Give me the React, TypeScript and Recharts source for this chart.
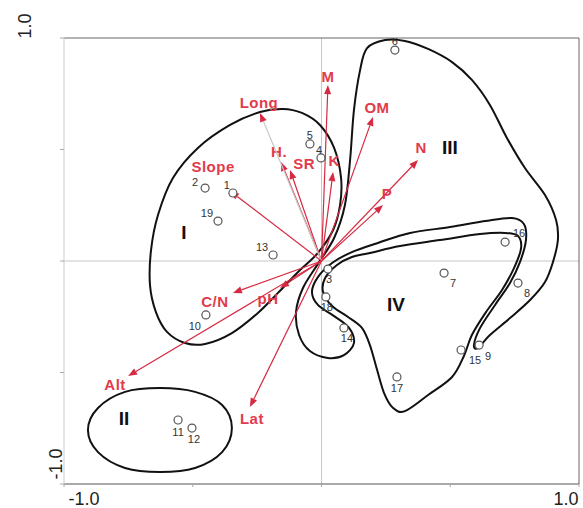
import { ComposedChart, XAxis, YAxis, Line, Scatter, ReferenceLine } from 'recharts';

// site scores (CCA axis 1 / axis 2)
const sites = [
  { id: '1', x: -0.344, y: 0.305 },
  { id: '2', x: -0.452, y: 0.327 },
  { id: '3', x: 0.025, y: -0.036 },
  { id: '4', x: -0.002, y: 0.462 },
  { id: '5', x: -0.045, y: 0.525 },
  { id: '6', x: 0.285, y: 0.946 },
  { id: '7', x: 0.476, y: -0.054 },
  { id: '8', x: 0.763, y: -0.099 },
  { id: '9', x: 0.612, y: -0.377 },
  { id: '10', x: -0.449, y: -0.242 },
  { id: '11', x: -0.557, y: -0.713 },
  { id: '12', x: -0.503, y: -0.749 },
  { id: '13', x: -0.188, y: 0.027 },
  { id: '14', x: 0.087, y: -0.3 },
  { id: '15', x: 0.542, y: -0.399 },
  { id: '16', x: 0.713, y: 0.085 },
  { id: '17', x: 0.293, y: -0.52 },
  { id: '18', x: 0.017, y: -0.161 },
  { id: '19', x: -0.402, y: 0.179 },
];

// environmental variable arrows (tip coordinates)
const envVars = [
  { name: 'M', x: 0.025, y: 0.789 },
  { name: 'OM', x: 0.2, y: 0.646 },
  { name: 'N', x: 0.375, y: 0.453 },
  { name: 'P', x: 0.239, y: 0.251 },
  { name: 'K', x: 0.045, y: 0.399 },
  { name: 'SR', x: -0.122, y: 0.408 },
  { name: 'H.', x: -0.157, y: 0.444 },
  { name: 'Long', x: -0.239, y: 0.664 },
  { name: 'Slope', x: -0.355, y: 0.314 },
  { name: 'C/N', x: -0.344, y: -0.143 },
  { name: 'pH', x: -0.161, y: -0.121 },
  { name: 'Alt', x: -0.751, y: -0.516 },
  { name: 'Lat', x: -0.278, y: -0.655 },
];

const groupLabels = [
  { name: 'I', x: -0.534, y: 0.13 },
  { name: 'II', x: -0.767, y: -0.704 },
  { name: 'III', x: 0.499, y: 0.511 },
  { name: 'IV', x: 0.289, y: -0.193 },
];

// hand-drawn group outlines
const outlineI = [
  { x: -0.239, y: 0.668 }, { x: -0.15, y: 0.682 }, { x: -0.076, y: 0.664 }, { x: -0.006, y: 0.61 },
  { x: 0.049, y: 0.507 }, { x: 0.076, y: 0.372 }, { x: 0.072, y: 0.251 }, { x: 0.045, y: 0.139 },
  { x: -0.014, y: 0.036 }, { x: -0.091, y: -0.049 }, { x: -0.169, y: -0.143 }, { x: -0.247, y: -0.233 },
  { x: -0.348, y: -0.323 }, { x: -0.452, y: -0.372 }, { x: -0.53, y: -0.368 }, { x: -0.6, y: -0.318 },
  { x: -0.643, y: -0.229 }, { x: -0.666, y: -0.108 }, { x: -0.662, y: 0.049 }, { x: -0.635, y: 0.206 },
  { x: -0.577, y: 0.372 }, { x: -0.48, y: 0.507 }, { x: -0.355, y: 0.61 },
];

const outlineII = [
  { x: -0.627, y: -0.57 }, { x: -0.491, y: -0.587 }, { x: -0.386, y: -0.646 }, { x: -0.348, y: -0.749 },
  { x: -0.386, y: -0.857 }, { x: -0.491, y: -0.928 }, { x: -0.627, y: -0.946 }, { x: -0.763, y: -0.928 },
  { x: -0.868, y: -0.857 }, { x: -0.907, y: -0.758 }, { x: -0.868, y: -0.659 }, { x: -0.763, y: -0.587 },
];

const outlineIII = [
  { x: 0.247, y: 0.991 }, { x: 0.324, y: 0.987 }, { x: 0.414, y: 0.951 }, { x: 0.507, y: 0.892 },
  { x: 0.584, y: 0.812 }, { x: 0.654, y: 0.7 }, { x: 0.72, y: 0.552 }, { x: 0.79, y: 0.417 },
  { x: 0.868, y: 0.296 }, { x: 0.911, y: 0.184 }, { x: 0.918, y: 0.094 }, { x: 0.899, y: -0.004 },
  { x: 0.868, y: -0.094 }, { x: 0.81, y: -0.175 }, { x: 0.732, y: -0.256 }, { x: 0.654, y: -0.332 },
  { x: 0.608, y: -0.39 }, { x: 0.592, y: -0.377 }, { x: 0.616, y: -0.3 }, { x: 0.674, y: -0.197 },
  { x: 0.732, y: -0.099 }, { x: 0.771, y: -0.004 }, { x: 0.794, y: 0.094 }, { x: 0.786, y: 0.166 },
  { x: 0.74, y: 0.193 }, { x: 0.635, y: 0.179 }, { x: 0.499, y: 0.152 }, { x: 0.344, y: 0.126 },
  { x: 0.219, y: 0.081 }, { x: 0.118, y: 0.04 }, { x: 0.041, y: -0.009 }, { x: -0.014, y: -0.072 },
  { x: -0.037, y: -0.139 }, { x: -0.014, y: -0.197 }, { x: 0.049, y: -0.247 }, { x: 0.107, y: -0.3 },
  { x: 0.126, y: -0.368 }, { x: 0.087, y: -0.422 }, { x: 0.025, y: -0.435 }, { x: -0.045, y: -0.404 },
  { x: -0.087, y: -0.332 }, { x: -0.099, y: -0.229 }, { x: -0.072, y: -0.121 }, { x: -0.014, y: -0.013 },
  { x: 0.049, y: 0.103 }, { x: 0.091, y: 0.251 }, { x: 0.111, y: 0.453 }, { x: 0.126, y: 0.677 },
  { x: 0.15, y: 0.857 }, { x: 0.177, y: 0.955 },
];

const outlineIV = [
  { x: 0.188, y: 0.036 }, { x: 0.305, y: 0.067 }, { x: 0.46, y: 0.094 }, { x: 0.616, y: 0.121 },
  { x: 0.713, y: 0.126 }, { x: 0.763, y: 0.112 }, { x: 0.775, y: 0.058 }, { x: 0.748, y: -0.031 },
  { x: 0.701, y: -0.13 }, { x: 0.639, y: -0.229 }, { x: 0.584, y: -0.332 }, { x: 0.553, y: -0.426 },
  { x: 0.507, y: -0.52 }, { x: 0.414, y: -0.601 }, { x: 0.324, y: -0.673 }, { x: 0.278, y: -0.659 },
  { x: 0.243, y: -0.592 }, { x: 0.216, y: -0.489 }, { x: 0.188, y: -0.377 }, { x: 0.157, y: -0.3 },
  { x: 0.103, y: -0.251 }, { x: 0.041, y: -0.202 }, { x: 0.006, y: -0.139 }, { x: 0.014, y: -0.076 },
  { x: 0.06, y: -0.018 }, { x: 0.118, y: 0.018 },
];

const outlines = [outlineI, outlineII, outlineIII, outlineIV];

// label offsets in px (label centre relative to the mark)
const siteLabelOffset: Record<string, [number, number]> = {
  '1': [-6, -8], '2': [-10, -6], '3': [1, 10], '4': [-2, -8], '5': [0, -9], '6': [0, -9],
  '7': [9, 10], '8': [9, 10], '9': [9, 11], '10': [-11, 11], '11': [0, 12], '12': [2, 11],
  '13': [-11, -8], '14': [3, 10], '15': [14, 10], '16': [14, -9], '17': [0, 11], '18': [1, 10],
  '19': [-11, -8],
};
const varLabelOffset: Record<string, [number, number]> = {
  M: [0, -8], OM: [4, -9], N: [3, -12], P: [4, -11], K: [1, -11], SR: [14, -6], 'H.': [-2, -10],
  Long: [-1, -10], Slope: [-17, -24], 'C/N': [-18, 9], pH: [-12, 11], Alt: [-13, 9], Lat: [2, 12],
};

const RED = '#d62a42';
const LABEL_RED = '#e23b4b';
const FONT = '"Liberation Sans", Arial, sans-serif';

// closed Catmull-Rom curve through every outline point
const closedSpline = (context: any) => {
  let pts: [number, number][] = [];
  return {
    areaStart() {},
    areaEnd() {},
    lineStart() { pts = []; },
    point(x: number, y: number) { pts.push([x, y]); },
    lineEnd() {
      const n = pts.length;
      if (!n) return;
      context.moveTo(pts[0][0], pts[0][1]);
      for (let i = 0; i < n; i++) {
        const p0 = pts[(i - 1 + n) % n], p1 = pts[i], p2 = pts[(i + 1) % n], p3 = pts[(i + 2) % n];
        context.bezierCurveTo(
          p1[0] + (p2[0] - p0[0]) / 6, p1[1] + (p2[1] - p0[1]) / 6,
          p2[0] - (p3[0] - p1[0]) / 6, p2[1] - (p3[1] - p1[1]) / 6,
          p2[0], p2[1],
        );
      }
      context.closePath();
    },
  };
};

function Arrow(props: any) {
  const { x1, y1, x2, y2, name } = props;
  const ang = Math.atan2(y2 - y1, x2 - x1);
  const len = 9, half = 3.5;
  const bx = x2 - len * Math.cos(ang), by = y2 - len * Math.sin(ang);
  const px = -Math.sin(ang) * half, py = Math.cos(ang) * half;
  const [dx, dy] = varLabelOffset[name] || [0, 0];
  return (
    <g>
      <line x1={x1} y1={y1} x2={bx} y2={by} stroke={name === 'Long' ? '#c8c8c8' : RED} strokeWidth={1.2} />
      <polygon points={`${x2},${y2} ${bx + px},${by + py} ${bx - px},${by - py}`} fill={RED} />
      <text x={x2 + dx} y={y2 + dy + 5} textAnchor="middle" fontSize={15} fontWeight="bold"
        letterSpacing={0.5} fill={LABEL_RED} fontFamily={FONT}>{name}</text>
    </g>
  );
}

const SiteShape = (props: any) => {
  const { cx, cy, payload } = props;
  const [dx, dy] = siteLabelOffset[payload.id] || [0, 0];
  return (
    <g>
      <circle cx={cx} cy={cy} r={4} fill="#fff" stroke="#555" strokeWidth={1.2} />
      <text x={cx + dx} y={cy + dy + 4} textAnchor="middle" fontSize={11} fill="#333" fontFamily={FONT}>{payload.id}</text>
    </g>
  );
};

const GroupShape = (props: any) => {
  const { cx, cy, payload } = props;
  return (
    <text x={cx} y={cy + 7} textAnchor="middle" fontSize={19} fontWeight="bold" fill="#111" fontFamily={FONT}>
      {payload.name}
    </text>
  );
};

const XTick = (props: any) => {
  const { x, y, payload } = props;
  if (Math.abs(payload.value) !== 1) return null;
  const dx = payload.value < 0 ? 20 : -13;
  return (
    <text x={x + dx} y={y + 16} textAnchor="middle" fontSize={18} fill="#222" fontFamily={FONT}>
      {payload.value.toFixed(1)}
    </text>
  );
};

const YTick = (props: any) => {
  const { y, payload } = props;
  if (Math.abs(payload.value) !== 1) return null;
  const bx = payload.value > 0 ? 31 : 62;
  const cy = payload.value > 0 ? y - 12 : y - 20;
  return (
    <text x={bx} y={cy} transform={`rotate(-90, ${bx}, ${cy})`} textAnchor="middle" fontSize={18} fill="#222" fontFamily={FONT}>
      {payload.value.toFixed(1)}
    </text>
  );
};

export default function App() {
  return (
    <div style={{ position: 'absolute', left: 0, top: 0, background: '#fff' }}>
      <ComposedChart width={583} height={508} margin={{ top: 38, right: 4, bottom: 0, left: 0 }}>
        <XAxis dataKey="x" type="number" domain={[-1, 1]} ticks={[-1, -0.5, 0, 0.5, 1]} height={24}
          axisLine={{ stroke: '#555' }} tickLine={{ stroke: '#aaa' }} tickSize={3} tick={<XTick />} allowDataOverflow />
        <YAxis dataKey="y" type="number" domain={[-1, 1]} ticks={[-1, -0.5, 0, 0.5, 1]} width={64}
          axisLine={{ stroke: '#ccc' }} tickLine={{ stroke: '#aaa' }} tickSize={4} tick={<YTick />} allowDataOverflow />
        <ReferenceLine x={0} stroke="#c8c8c8" />
        <ReferenceLine y={0} stroke="#c8c8c8" />
        <ReferenceLine y={1} stroke="#666" />
        <ReferenceLine x={1} stroke="#666" />
        {outlines.map((o, i) => (
          <Line key={i} data={o} dataKey="y" type={closedSpline as any} stroke="#111" strokeWidth={2}
            dot={false} activeDot={false} isAnimationActive={false} />
        ))}
        {envVars.map(v => (
          <ReferenceLine key={v.name} segment={[{ x: 0, y: 0 }, { x: v.x, y: v.y }]}
            shape={(p: any) => <Arrow {...p} name={v.name} />} />
        ))}
        <Scatter data={sites} shape={<SiteShape />} isAnimationActive={false} />
        <Scatter data={groupLabels} shape={<GroupShape />} isAnimationActive={false} />
      </ComposedChart>
    </div>
  );
}
